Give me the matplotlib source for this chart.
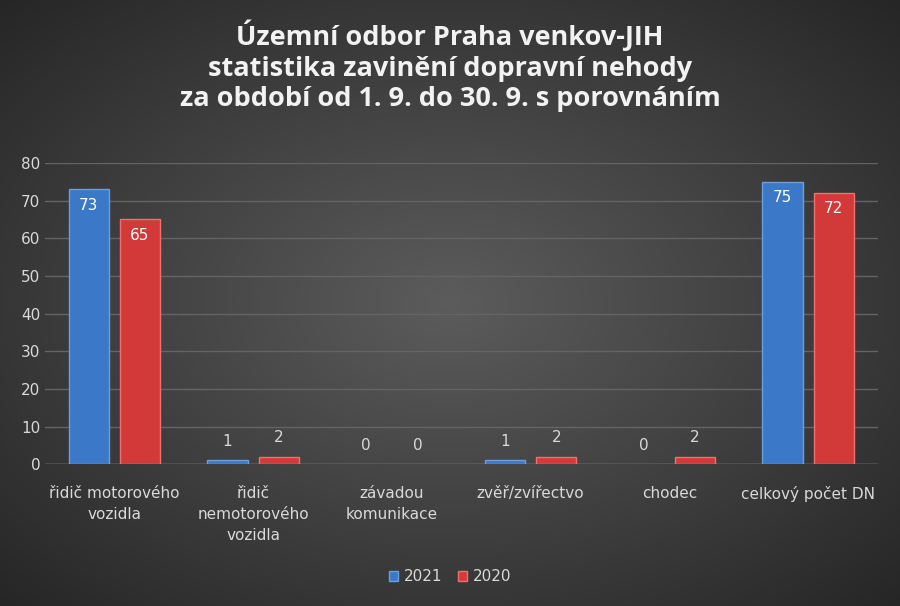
import numpy as np
import matplotlib
matplotlib.use("Agg")
import matplotlib.pyplot as plt

categories = ["řidič motorového\nvozidla", "řidič\nnemotorového\nvozidla", "závadou\nkomunikace",
              "zvěř/zvířectvo", "chodec", "celkový počet DN"]
s2021 = [73, 1, 0, 1, 0, 75]
s2020 = [65, 2, 0, 2, 2, 72]
yticks = [0, 10, 20, 30, 40, 50, 60, 70, 80]
title = "Územní odbor Praha venkov-JIH\nstatistika zavinění dopravní nehody\nza období od 1. 9. do 30. 9. s porovnáním"

fig = plt.figure(figsize=(9, 6.06), dpi=100)
bg = fig.add_axes([0, 0, 1, 1], zorder=0)
yy, xx = np.mgrid[-1:1:300j, -1:1:450j]
r = np.sqrt(xx**2 + yy**2) / np.sqrt(2)
c0 = np.array([0x5c, 0x5c, 0x5c]) / 255
c1 = np.array([0x26, 0x26, 0x26]) / 255
img = c0[None, None, :] * (1 - r[..., None]) + c1[None, None, :] * r[..., None]
bg.imshow(img, aspect="auto", extent=[0, 1, 0, 1])
bg.axis("off")

fig.text(0.5, 0.967, title, ha="center", va="top", color="#f2f2f2", fontsize=19.5,
         fontweight="bold", family="Open Sans", linespacing=1.22)

ax = fig.add_axes([0.05, 0.234, 0.925, 0.497], zorder=1)
ax.patch.set_alpha(0)
x = np.arange(len(categories))
w = 0.29
off = 0.185
b1 = ax.bar(x - off, s2021, w, color="#3b78c8", edgecolor="#6a9fe0", linewidth=1, label="2021", zorder=3)
b2 = ax.bar(x + off, s2020, w, color="#d23a3a", edgecolor="#f07070", linewidth=1, label="2020", zorder=3)
for bars, vals in ((b1, s2021), (b2, s2020)):
    for b, v in zip(bars, vals):
        if v == 0:
            b.set_linewidth(0)
        cx = b.get_x() + b.get_width() / 2
        if v > 10:
            ax.text(cx, v - 2.2, str(v), ha="center", va="top", color="white", fontsize=11, zorder=4)
        else:
            ax.text(cx, v + 3, str(v), ha="center", va="bottom", color="#d9d9d9", fontsize=11, zorder=4)
ax.set_xlim(-0.5, len(categories) - 0.5)
ax.set_ylim(0, 80)
ax.set_yticks(yticks)
ax.grid(axis="y", color="#646464", linewidth=1, zorder=0)
ax.set_xticks(x)
ax.set_xticklabels(categories, color="#d9d9d9", fontsize=11, linespacing=1.5)
ax.tick_params(axis="y", colors="#d9d9d9", labelsize=11, length=0)
ax.tick_params(axis="x", length=0, pad=16)
for s in ax.spines.values():
    s.set_visible(False)
ax.axhline(0, color="#8a8a8a", linewidth=1, zorder=2)
leg = fig.legend(handles=[b1, b2], loc="center", bbox_to_anchor=(0.5, 0.048), ncol=2, frameon=False,
                 fontsize=11, handlelength=0.6, handleheight=0.6, columnspacing=1.0, handletextpad=0.4)
for t in leg.get_texts():
    t.set_color("#d9d9d9")
fig.savefig("out.png", dpi=100)
